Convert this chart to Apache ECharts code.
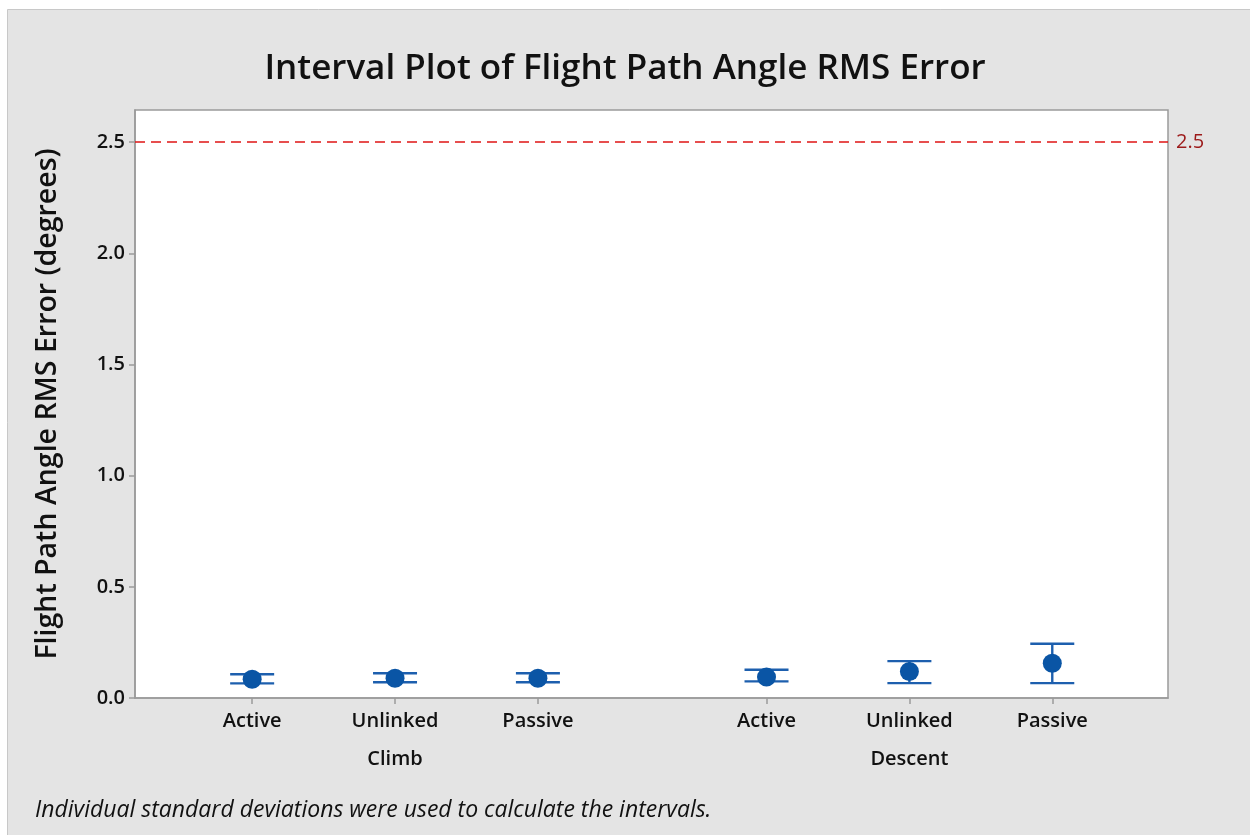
<!DOCTYPE html>
<html>
<head>
<meta charset="utf-8">
<script src="https://cdn.jsdelivr.net/npm/echarts@6/dist/echarts.min.js"></script>
<style>
html,body{margin:0;padding:0;background:#ffffff;}
#chart{width:1250px;height:835px;}
</style>
</head>
<body>
<div id="chart"></div>
<script>
// ---- data ----
const levels = ["Active", "Unlinked", "Passive"];
const groups = ["Climb", "Descent"];
const means  = [0.084, 0.089, 0.089, 0.094, 0.119, 0.156];
const lowers = [0.066, 0.071, 0.071, 0.075, 0.067, 0.067];
const uppers = [0.107, 0.111, 0.111, 0.127, 0.166, 0.244];
const yTicks = [0, 0.5, 1.0, 1.5, 2.0, 2.5];
const refValue = 2.5;

// ---- layout helpers ----
const groupStep = 3.6;
const positions = [];
const tickLabels = {};
groups.forEach((g, gi) => levels.forEach((l, li) => {
  const p = +(gi * groupStep + li + 1).toFixed(2);
  positions.push(p);
  tickLabels[p] = l;
}));
const groupPos = {};
groups.forEach((g, gi) => { const p = +(gi * groupStep + 2).toFixed(2); groupPos[p] = g; });

const scatterData = means.map((m, i) => [positions[i], m]);
const barData = means.map((m, i) => [positions[i], lowers[i], uppers[i]]);

const FONT = "'Open Sans', 'Noto Sans', sans-serif";
const blue = '#0a55a5';
const lineBlue = '#1d5fae';

const chart = echarts.init(document.getElementById('chart'), null, {renderer: 'canvas'});
const xCommon = { type: 'value', min: 0.18, max: 7.41, gridIndex: 0, splitLine: {show: false} };

chart.setOption({
  backgroundColor: '#ffffff',
  animation: false,
  graphic: [{
    type: 'rect', z: -10, silent: true,
    shape: {x: 7.5, y: 9.5, width: 1260, height: 840},
    style: {fill: '#e4e4e4', stroke: '#c8c8c8', lineWidth: 1}
  }, {
    type: 'text', left: 35, top: 799,
    style: {text: 'Individual standard deviations were used to calculate the intervals.',
      font: 'italic 23px ' + FONT, fill: '#111'}
  }],
  title: {
    text: 'Interval Plot of Flight Path Angle RMS Error',
    left: 'center', top: 47,
    textStyle: {fontFamily: FONT, fontSize: 35, fontWeight: 600, color: '#111'}
  },
  grid: {left: 135, top: 110, right: 82, bottom: 137, show: true,
    backgroundColor: '#ffffff', borderColor: '#9a9a9a', borderWidth: 1.5},
  xAxis: [Object.assign({}, xCommon, {
    position: 'bottom',
    axisLine: {show: true, lineStyle: {color: '#9a9a9a', width: 1.5}},
    axisTick: {show: true, customValues: positions, length: 6, lineStyle: {color: '#9a9a9a', width: 1.5}},
    axisLabel: {show: true, customValues: positions, margin: 13,
      formatter: v => tickLabels[+v.toFixed(2)] || '',
      fontFamily: FONT, fontSize: 20, fontWeight: 600, color: '#111'}
  }), Object.assign({}, xCommon, {
    position: 'bottom', offset: 38,
    axisLine: {show: false}, axisTick: {show: false},
    axisLabel: {show: true, customValues: Object.keys(groupPos).map(Number), margin: 13,
      formatter: v => groupPos[+v.toFixed(2)] || '',
      fontFamily: FONT, fontSize: 20, fontWeight: 600, color: '#111'}
  })],
  yAxis: {
    type: 'value', min: 0, max: 2.645,
    name: 'Flight Path Angle RMS Error (degrees)',
    nameLocation: 'middle', nameGap: 73, nameRotate: 90,
    nameTextStyle: {fontFamily: FONT, fontSize: 28.5, color: '#111', fontWeight: 600},
    splitLine: {show: false},
    axisLine: {show: true, lineStyle: {color: '#9a9a9a', width: 1.5}},
    axisTick: {show: true, customValues: yTicks, length: 6, lineStyle: {color: '#9a9a9a', width: 1.5}},
    axisLabel: {customValues: yTicks, formatter: v => v.toFixed(1), margin: 10,
      fontFamily: FONT, fontSize: 20, fontWeight: 600, color: '#111'}
  },
  series: [{
    type: 'custom', xAxisIndex: 0, z: 2,
    data: barData,
    renderItem: function (params, api) {
      const x = api.value(0), lo = api.value(1), hi = api.value(2);
      const a = api.coord([x, lo]), b = api.coord([x, hi]);
      const hw = 22;
      const st = {stroke: lineBlue, lineWidth: 2.4};
      return {type: 'group', children: [
        {type: 'line', shape: {x1: a[0], y1: a[1], x2: b[0], y2: b[1]}, style: st},
        {type: 'line', shape: {x1: a[0] - hw, y1: a[1], x2: a[0] + hw, y2: a[1]}, style: st},
        {type: 'line', shape: {x1: b[0] - hw, y1: b[1], x2: b[0] + hw, y2: b[1]}, style: st}
      ]};
    }
  }, {
    type: 'scatter', xAxisIndex: 0, z: 3,
    data: scatterData, symbol: 'circle', symbolSize: 19,
    itemStyle: {color: blue, opacity: 1},
    markLine: {
      silent: true, symbol: ['none', 'none'],
      lineStyle: {type: [10, 6], color: '#e01515', width: 1.6},
      label: {show: true, position: 'end', distance: 8, formatter: '2.5',
        fontFamily: FONT, fontSize: 20, color: '#9c1a1a'},
      data: [{yAxis: refValue}]
    }
  }]
});
</script>
</body>
</html>
